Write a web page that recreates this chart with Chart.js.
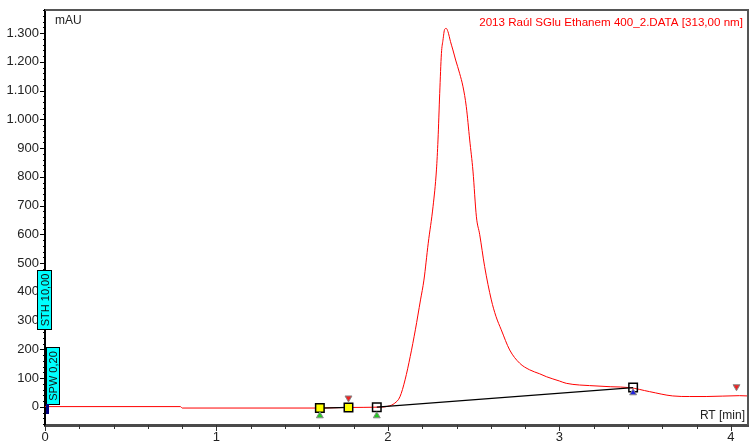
<!DOCTYPE html>
<html lang="es">
<head>
<meta charset="UTF-8">
<title>Cromatograma 313 nm</title>
<script src="https://cdn.jsdelivr.net/npm/chart.js@4"></script>
<style>
  html, body { margin: 0; padding: 0; background: #fff; }
</style>
</head>
<body>
<canvas id="cromatograma" width="752" height="447"></canvas>
<script>
// Señal a 313 nm (tiempo en min, absorbancia en mAU)
const tiempos = [0, 0.79, 0.80, 1.60, 1.77, 1.94, 2.00, 2.04, 2.07, 2.10, 2.13, 2.16, 2.19, 2.21, 2.235,
    2.263, 2.283, 2.292, 2.302, 2.312, 2.321, 2.331, 2.340, 2.350, 2.365, 2.379, 2.395, 2.418, 2.438,
    2.457, 2.477, 2.496, 2.516, 2.535, 2.564, 2.603, 2.630, 2.661, 2.710, 2.768, 2.826, 2.885, 2.924,
    3.000, 3.040, 3.118, 3.176, 3.300, 3.410, 3.526, 3.661, 3.760, 3.856, 4.050, 4.100];
const absorbancia = [1, 1, -4, -4, -2, -1, 2, 13, 35, 94, 175, 268, 372, 441, 569,
    696, 824, 928, 1090, 1229, 1275, 1313, 1316, 1305, 1270, 1241, 1206, 1160, 1113,
    1044, 928, 820, 661, 600, 488, 372, 315, 268, 198, 152, 129, 115, 105,
    90, 82, 76, 74, 70, 67, 53, 38, 36, 36, 39, 38];

// Línea de base de integración (null corta el tramo)
const baseX = [1.603, 1.77, 1.85, 1.935, 3.43];
const baseY = [-4, -2, null, -1, 67];

// Marcas de integración (cuadrados)
const marcasX = [1.603, 1.77, 1.935, 3.43];
const marcasY = [-4, -2, -1, 67];
const marcasColor = ["#ffff00", "#ffff00", "rgba(255,255,255,0)", "rgba(255,255,255,0)"];

// Flechas de eventos
const flechasX = [1.603, 1.77, 1.935, 3.43, 4.033];
const flechasY = [-31, 31, -31, 49, 70];
const flechasColor = ["#22cc22", "#ee2222", "#22cc22", "#2222dd", "#ee2222"];
const flechasGiro = [0, 180, 0, 0, 180];

// Ejes
const ticksX = [0, 1, 2, 3, 4];
const ticksY = [0, 100, 200, 300, 400, 500, 600, 700, 800, 900, 1000, 1100, 1200, 1300];

const titulo = "2013 Raúl SGlu Ethanem 400_2.DATA [313,00 nm]";
const fuente = "Liberation Sans";

function miles(v) {
    return String(v).replace(/\B(?=(\d{3})+(?!\d))/g, ".");
}

function puntos(xs, ys) {
    return xs.map((x, i) => ({ x: x, y: ys[i] }));
}

// Dibuja marco, marcas menores, textos y cajas de parámetros
const decoracion = {
    id: "decoracion",
    afterDraw(chart) {
        const { ctx, chartArea: a, scales: { x, y } } = chart;
        ctx.save();

        // marco superior y derecho
        ctx.strokeStyle = "#555";
        ctx.lineWidth = 2;
        ctx.beginPath();
        ctx.moveTo(a.left, a.top);
        ctx.lineTo(a.right, a.top);
        ctx.lineTo(a.right, a.bottom);
        ctx.stroke();

        // marcas del eje Y
        ctx.strokeStyle = "#000";
        ctx.lineWidth = 1;
        for (let v = -60; v <= 1380; v += 20) {
            const py = Math.round(y.getPixelForValue(v)) + 0.5;
            const largo = v % 100 === 0 ? 5 : 2;
            ctx.beginPath();
            ctx.moveTo(a.left - largo, py);
            ctx.lineTo(a.left, py);
            ctx.stroke();
        }

        // marcas del eje X
        ctx.strokeStyle = "#333";
        for (let i = 0; i <= 20; i++) {
            const px = Math.round(x.getPixelForValue(i * 0.2)) + 0.5;
            const largo = i % 5 === 0 ? 6 : 4;
            ctx.beginPath();
            ctx.moveTo(px, a.bottom);
            ctx.lineTo(px, a.bottom + largo);
            ctx.stroke();
        }

        // textos
        ctx.font = "12px '" + fuente + "'";
        ctx.textBaseline = "middle";
        ctx.fillStyle = "#222";
        ctx.textAlign = "left";
        ctx.fillText("mAU", a.left + 10, a.top + 11);
        ctx.textAlign = "right";
        ctx.fillText("RT [min]", a.right - 3, a.bottom - 9);
        ctx.fillStyle = "#ff0000";
        ctx.font = "11.6px '" + fuente + "'";
        ctx.fillText(titulo, a.right - 5, a.top + 13);

        // cajas de parámetros
        function caja(texto, x0, v0, v1, ancho) {
            const yTop = Math.round(y.getPixelForValue(v1)) + 0.5;
            const yBot = Math.round(y.getPixelForValue(v0)) + 0.5;
            ctx.fillStyle = "#00ffff";
            ctx.strokeStyle = "#000";
            ctx.lineWidth = 1;
            ctx.fillRect(x0, yTop, ancho, yBot - yTop);
            ctx.strokeRect(x0, yTop, ancho, yBot - yTop);
            ctx.save();
            ctx.translate(x0 + ancho / 2, (yTop + yBot) / 2);
            ctx.rotate(-Math.PI / 2);
            ctx.fillStyle = "#111";
            ctx.font = "11px '" + fuente + "'";
            ctx.textAlign = "center";
            ctx.textBaseline = "middle";
            ctx.fillText(texto, 0, 1);
            ctx.restore();
        }
        caja("STH 10,00", Math.round(a.left) - 7.5, 271, 476, 14);
        caja("SPW 0,20", Math.round(a.left) + 1.5, 10, 208, 13);

        // marca de inicio
        ctx.fillStyle = "#000080";
        ctx.fillRect(a.left + 1, y.getPixelForValue(10), 3, 10);

        ctx.restore();
    }
};

const ctx = document.getElementById("cromatograma").getContext("2d");

new Chart(ctx, {
    type: "line",
    data: {
        datasets: [
            {
                data: puntos(tiempos, absorbancia),
                borderColor: "#ff0000",
                borderWidth: 1,
                pointRadius: 0,
                cubicInterpolationMode: "monotone",
                order: 3
            },
            {
                data: puntos(baseX, baseY),
                borderColor: "#000",
                borderWidth: 1.2,
                pointRadius: 0,
                spanGaps: false,
                order: 2
            },
            {
                data: puntos(marcasX, marcasY),
                showLine: false,
                pointStyle: "rect",
                pointRadius: 6,
                backgroundColor: marcasColor,
                borderColor: "#000",
                borderWidth: 1.5,
                order: 1
            },
            {
                data: puntos(flechasX, flechasY),
                showLine: false,
                pointStyle: "triangle",
                pointRadius: 4,
                rotation: flechasGiro,
                backgroundColor: flechasColor,
                borderColor: "#888",
                borderWidth: 1,
                order: 0
            }
        ]
    },
    options: {
        responsive: false,
        animation: false,
        layout: { autoPadding: false, padding: { top: 10, right: 4, left: 0, bottom: 0 } },
        plugins: {
            legend: { display: false },
            tooltip: { enabled: false }
        },
        scales: {
            x: {
                type: "linear",
                min: 0,
                max: 4.1,
                grid: { display: false, drawTicks: false },
                border: { display: true, color: "#4a4a4a", width: 3 },
                ticks: {
                    padding: 5,
                    color: "#222",
                    font: { family: fuente, size: 13 }
                },
                afterBuildTicks: s => { s.ticks = ticksX.map(v => ({ value: v })); },
                afterFit: s => {
                    s.height = 22;
                    s.paddingLeft = 0;
                    s.paddingRight = 0;
                }
            },
            y: {
                type: "linear",
                min: -63,
                max: 1380,
                grid: { display: false, drawTicks: false },
                border: { display: true, color: "#000", width: 2 },
                ticks: {
                    padding: 6,
                    color: "#222",
                    font: { family: fuente, size: 13 },
                    callback: v => miles(v)
                },
                afterBuildTicks: s => { s.ticks = ticksY.map(v => ({ value: v })); },
                afterFit: s => {
                    s.width = 45;
                    s.paddingTop = 0;
                    s.paddingBottom = 0;
                }
            }
        }
    },
    plugins: [decoracion]
});
</script>
</body>
</html>
